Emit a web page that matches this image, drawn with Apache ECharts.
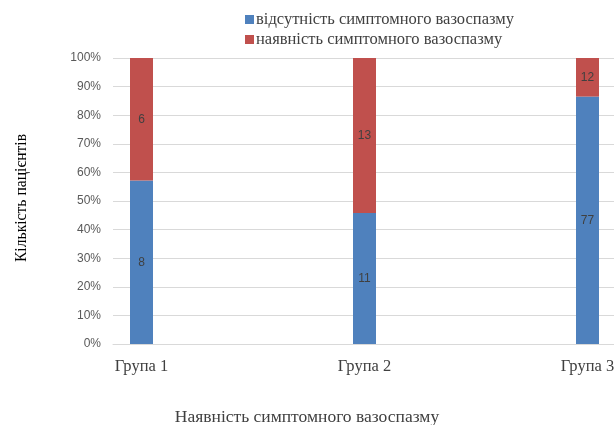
<!DOCTYPE html>
<html>
<head>
<meta charset="utf-8">
<script src="https://cdn.jsdelivr.net/npm/echarts@6/dist/echarts.min.js"></script>
<style>
  html, body { margin: 0; padding: 0; background: #fff; }
  #chart { width: 614px; height: 425px; }
</style>
</head>
<body>
<div id="chart"></div>
<script>
// дані
const groups = ['Група 1', 'Група 2', 'Група 3'];
const absentCounts = [8, 11, 77];
const presentCounts = [6, 13, 12];
const seriesNames = ['відсутність симптомного вазоспазму', 'наявність симптомного вазоспазму'];
const yTicks = [0, 10, 20, 30, 40, 50, 60, 70, 80, 90, 100];

const chart = echarts.init(document.getElementById('chart'));

// частки у відсотках (100% stacked)
const toPct = (counts, i) => counts[i] / (absentCounts[i] + presentCounts[i]) * 100;
const absentData = groups.map((g, i) => ({ value: toPct(absentCounts, i), count: absentCounts[i] }));
const presentData = groups.map((g, i) => ({ value: toPct(presentCounts, i), count: presentCounts[i] }));

const serif = '"Liberation Serif", "Times New Roman", serif';
const sans = '"Liberation Sans", Arial, sans-serif';

const labelOpt = {
  show: true,
  position: 'inside',
  color: '#404040',
  fontSize: 12,
  fontFamily: sans,
  formatter: p => p.data.count
};

const option = {
  animation: false,
  backgroundColor: '#fff',
  legend: {
    orient: 'vertical',
    left: 240,
    top: 6,
    itemWidth: 9,
    itemHeight: 9,
    itemGap: 3,
    icon: 'rect',
    textStyle: { fontFamily: serif, fontSize: 16.5, color: '#404040', padding: [0, 0, 0, -3] },
    data: seriesNames
  },
  // grid 0: сітка та вісь Y; grid 1: стовпці (центри категорій на краях)
  grid: [
    { left: 113, right: 0, top: 58, bottom: 81, outerBoundsMode: 'none' },
    { left: 141.5, right: 26.5, top: 58, bottom: 81, outerBoundsMode: 'none' }
  ],
  xAxis: [
    {
      gridIndex: 0,
      type: 'value',
      axisLine: { show: true, onZero: false, lineStyle: { color: '#d9d9d9' } },
      axisTick: { show: false },
      axisLabel: { show: false },
      splitLine: { show: false }
    },
    {
      gridIndex: 1,
      type: 'category',
      boundaryGap: false,
      data: groups,
      axisLine: { show: false },
      axisTick: { show: false },
      splitLine: { show: false },
      axisLabel: { color: '#404040', fontFamily: serif, fontSize: 16.5, margin: 14 }
    }
  ],
  yAxis: [
    {
      gridIndex: 0,
      type: 'value',
      min: 0,
      max: 100,
      interval: 10,
      axisLine: { show: false },
      axisTick: { show: false },
      splitLine: { lineStyle: { color: '#d9d9d9' } },
      axisLabel: {
        color: '#595959',
        fontFamily: sans,
        fontSize: 12,
        margin: 12,
        formatter: v => yTicks.includes(v) ? v + '%' : ''
      }
    },
    {
      gridIndex: 1,
      type: 'value',
      min: 0,
      max: 100,
      show: false,
      splitLine: { show: false }
    }
  ],
  graphic: [
    {
      type: 'text',
      x: 22,
      y: 198,
      rotation: Math.PI / 2,
      scaleX: 0.92,
      style: {
        text: 'Кількість пацієнтів',
        font: '17px ' + serif,
        fill: '#000',
        align: 'center',
        verticalAlign: 'middle'
      }
    },
    {
      type: 'text',
      x: 307,
      y: 417,
      style: {
        text: 'Наявність симптомного вазоспазму',
        font: '17.5px ' + serif,
        fill: '#404040',
        align: 'center',
        verticalAlign: 'middle'
      }
    }
  ],
  series: [
    {
      name: seriesNames[0],
      type: 'bar',
      stack: 'total',
      xAxisIndex: 1,
      yAxisIndex: 1,
      barWidth: 23,
      itemStyle: { color: '#4f81bd' },
      label: labelOpt,
      data: absentData
    },
    {
      name: seriesNames[1],
      type: 'bar',
      stack: 'total',
      xAxisIndex: 1,
      yAxisIndex: 1,
      barWidth: 23,
      itemStyle: { color: '#c0504d' },
      label: labelOpt,
      data: presentData
    }
  ]
};

chart.setOption(option);
</script>
</body>
</html>
